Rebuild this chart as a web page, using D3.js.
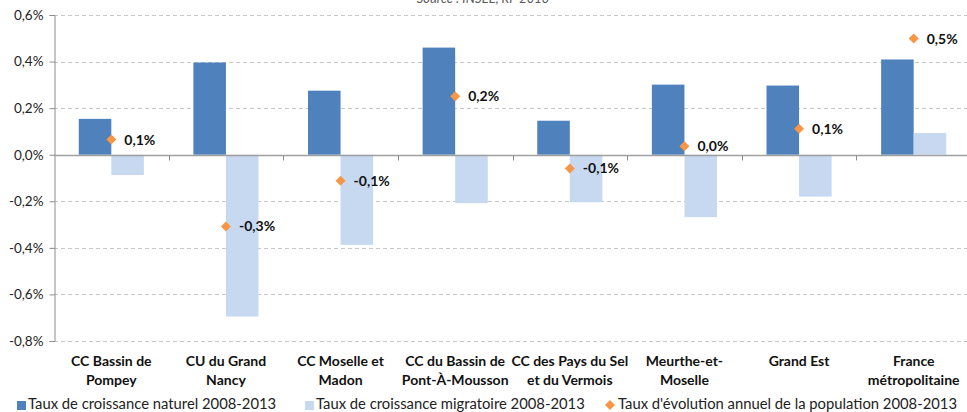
<!DOCTYPE html>
<html>
<head>
<meta charset="utf-8">
<script src="https://cdn.jsdelivr.net/npm/d3@7"></script>
<style>
  body { margin: 0; background: #fff; }
  svg { font-family: Lato, "Open Sans", sans-serif; }
</style>
</head>
<body>
<div id="chart"></div>
<script>
// Chart size
const width = 967;
const height = 412;
const margin = {left: 54, right: -4, top: 15, bottom: 71};

// Data
const categories = [
  ["CC Bassin de", "Pompey"],
  ["CU du Grand", "Nancy"],
  ["CC Moselle et", "Madon"],
  ["CC du Bassin de", "Pont-À-Mousson"],
  ["CC des Pays du Sel", "et du Vermois"],
  ["Meurthe-et-", "Moselle"],
  ["Grand Est", ""],
  ["France", "métropolitaine"]
];
const naturel = [0.154, 0.396, 0.275, 0.460, 0.146, 0.301, 0.297, 0.409];
const migratoire = [-0.087, -0.695, -0.387, -0.208, -0.204, -0.268, -0.180, 0.093];
const evolution = [0.065, -0.308, -0.112, 0.251, -0.059, 0.036, 0.112, 0.499];
const evolutionLabels = ["0,1%", "-0,3%", "-0,1%", "0,2%", "-0,1%", "0,0%", "0,1%", "0,5%"];
const yTicks = [-0.8, -0.6, -0.4, -0.2, 0, 0.2, 0.4, 0.6];
const legendLabels = [
  "Taux de croissance naturel 2008-2013",
  "Taux de croissance migratoire 2008-2013",
  "Taux d'évolution annuel de la population 2008-2013"
];

const colDark = "#4f81bd";
const colLight = "#c6d9f1";
const colOrange = "#f79646";

const svg = d3.select("#chart")
  .append("svg")
  .attr("width", width)
  .attr("height", height);

// Scales
const x = d3.scaleBand()
  .domain(d3.range(categories.length))
  .range([margin.left, width - margin.right]);

const y = d3.scaleLinear()
  .domain([-0.8, 0.6])
  .range([height - margin.bottom, margin.top]);

const barW = x.bandwidth() * 0.284;

// Source line, cut off at the top as in the original
svg.append("text")
  .attr("x", 483)
  .attr("y", 3)
  .attr("text-anchor", "middle")
  .attr("font-size", "13px")
  .attr("font-style", "italic")
  .attr("fill", "#595959")
  .text("Source : INSEE, RP 2013");

// Gridlines
svg.append("g")
  .selectAll("line")
  .data(yTicks.filter(d => d !== 0))
  .join("line")
  .attr("x1", margin.left)
  .attr("x2", width)
  .attr("y1", d => Math.round(y(d)) + 0.5)
  .attr("y2", d => Math.round(y(d)) + 0.5)
  .attr("stroke", "#c8c8c8")
  .attr("stroke-dasharray", "4,3");

// Y axis
const yAxis = svg.append("g")
  .attr("transform", `translate(${margin.left + 0.5},0)`)
  .call(d3.axisLeft(y)
    .tickValues(yTicks)
    .tickSize(5)
    .tickPadding(6)
    .tickFormat(d => d3.format(".1f")(d).replace(".", ",").replace("−", "-") + "%"));
yAxis.selectAll("path, line").attr("stroke", "#8c8c8c");
yAxis.selectAll("text")
  .attr("font-size", "13.5px")
  .attr("fill", "#222")
  .attr("font-family", "Lato, sans-serif");

// Bars
svg.append("g")
  .selectAll("rect")
  .data(naturel)
  .join("rect")
  .attr("x", (d, i) => x(i) + x.bandwidth() / 2 - barW)
  .attr("y", d => y(Math.max(0, d)))
  .attr("width", barW)
  .attr("height", d => Math.abs(y(d) - y(0)))
  .attr("fill", colDark);

svg.append("g")
  .selectAll("rect")
  .data(migratoire)
  .join("rect")
  .attr("x", (d, i) => x(i) + x.bandwidth() / 2)
  .attr("y", d => y(Math.max(0, d)))
  .attr("width", barW)
  .attr("height", d => Math.abs(y(d) - y(0)))
  .attr("fill", colLight);

// Zero line with category ticks
const zeroY = Math.round(y(0)) + 0.5;
svg.append("line")
  .attr("x1", margin.left)
  .attr("x2", width)
  .attr("y1", zeroY)
  .attr("y2", zeroY)
  .attr("stroke", "#a0a0a0")
  .attr("stroke-width", 1.5);

svg.append("g")
  .selectAll("line")
  .data(d3.range(1, categories.length))
  .join("line")
  .attr("x1", i => Math.round(x(i)) + 0.5)
  .attr("x2", i => Math.round(x(i)) + 0.5)
  .attr("y1", zeroY)
  .attr("y2", zeroY + 5)
  .attr("stroke", "#8c8c8c");

// Diamonds and their labels
const diamond = "M0,-5L5,0L0,5L-5,0Z";
const pts = svg.append("g");
pts.selectAll("path")
  .data(evolution)
  .join("path")
  .attr("d", diamond)
  .attr("transform", (d, i) => `translate(${x(i) + x.bandwidth() / 2},${y(d)})`)
  .attr("fill", colOrange);

pts.selectAll("text")
  .data(evolution)
  .join("text")
  .attr("x", (d, i) => x(i) + x.bandwidth() / 2 + 13)
  .attr("y", d => y(d) + 5)
  .attr("font-size", "14px")
  .attr("font-weight", "bold")
  .attr("fill", "#111")
  .text((d, i) => evolutionLabels[i]);

// Category labels
const cat = svg.append("g")
  .selectAll("text")
  .data(categories)
  .join("text")
  .attr("x", (d, i) => x(i) + x.bandwidth() / 2)
  .attr("y", 366)
  .attr("text-anchor", "middle")
  .attr("font-size", "14px")
  .attr("font-weight", "bold")
  .attr("fill", "#111");
cat.append("tspan").text(d => d[0]);
cat.append("tspan")
  .attr("x", (d, i) => x(i) + x.bandwidth() / 2)
  .attr("dy", 19)
  .text(d => d[1]);

// Legend
const legendX = [17, 305, 605];
const legend = svg.append("g")
  .selectAll("g")
  .data(legendLabels)
  .join("g")
  .attr("transform", (d, i) => `translate(${legendX[i]},405)`);

legend.filter((d, i) => i < 2)
  .append("rect")
  .attr("x", 0)
  .attr("y", -4)
  .attr("width", 9)
  .attr("height", 9)
  .attr("fill", (d, i) => i === 0 ? colDark : colLight);

legend.filter((d, i) => i === 2)
  .append("path")
  .attr("d", "M5,-5L10,0L5,5L0,0Z")
  .attr("fill", colOrange);

legend.append("text")
  .attr("x", (d, i) => i === 2 ? 13 : 11)
  .attr("y", 4)
  .attr("font-size", "14.8px")
  .attr("fill", "#222")
  .text(d => d);
</script>
</body>
</html>
